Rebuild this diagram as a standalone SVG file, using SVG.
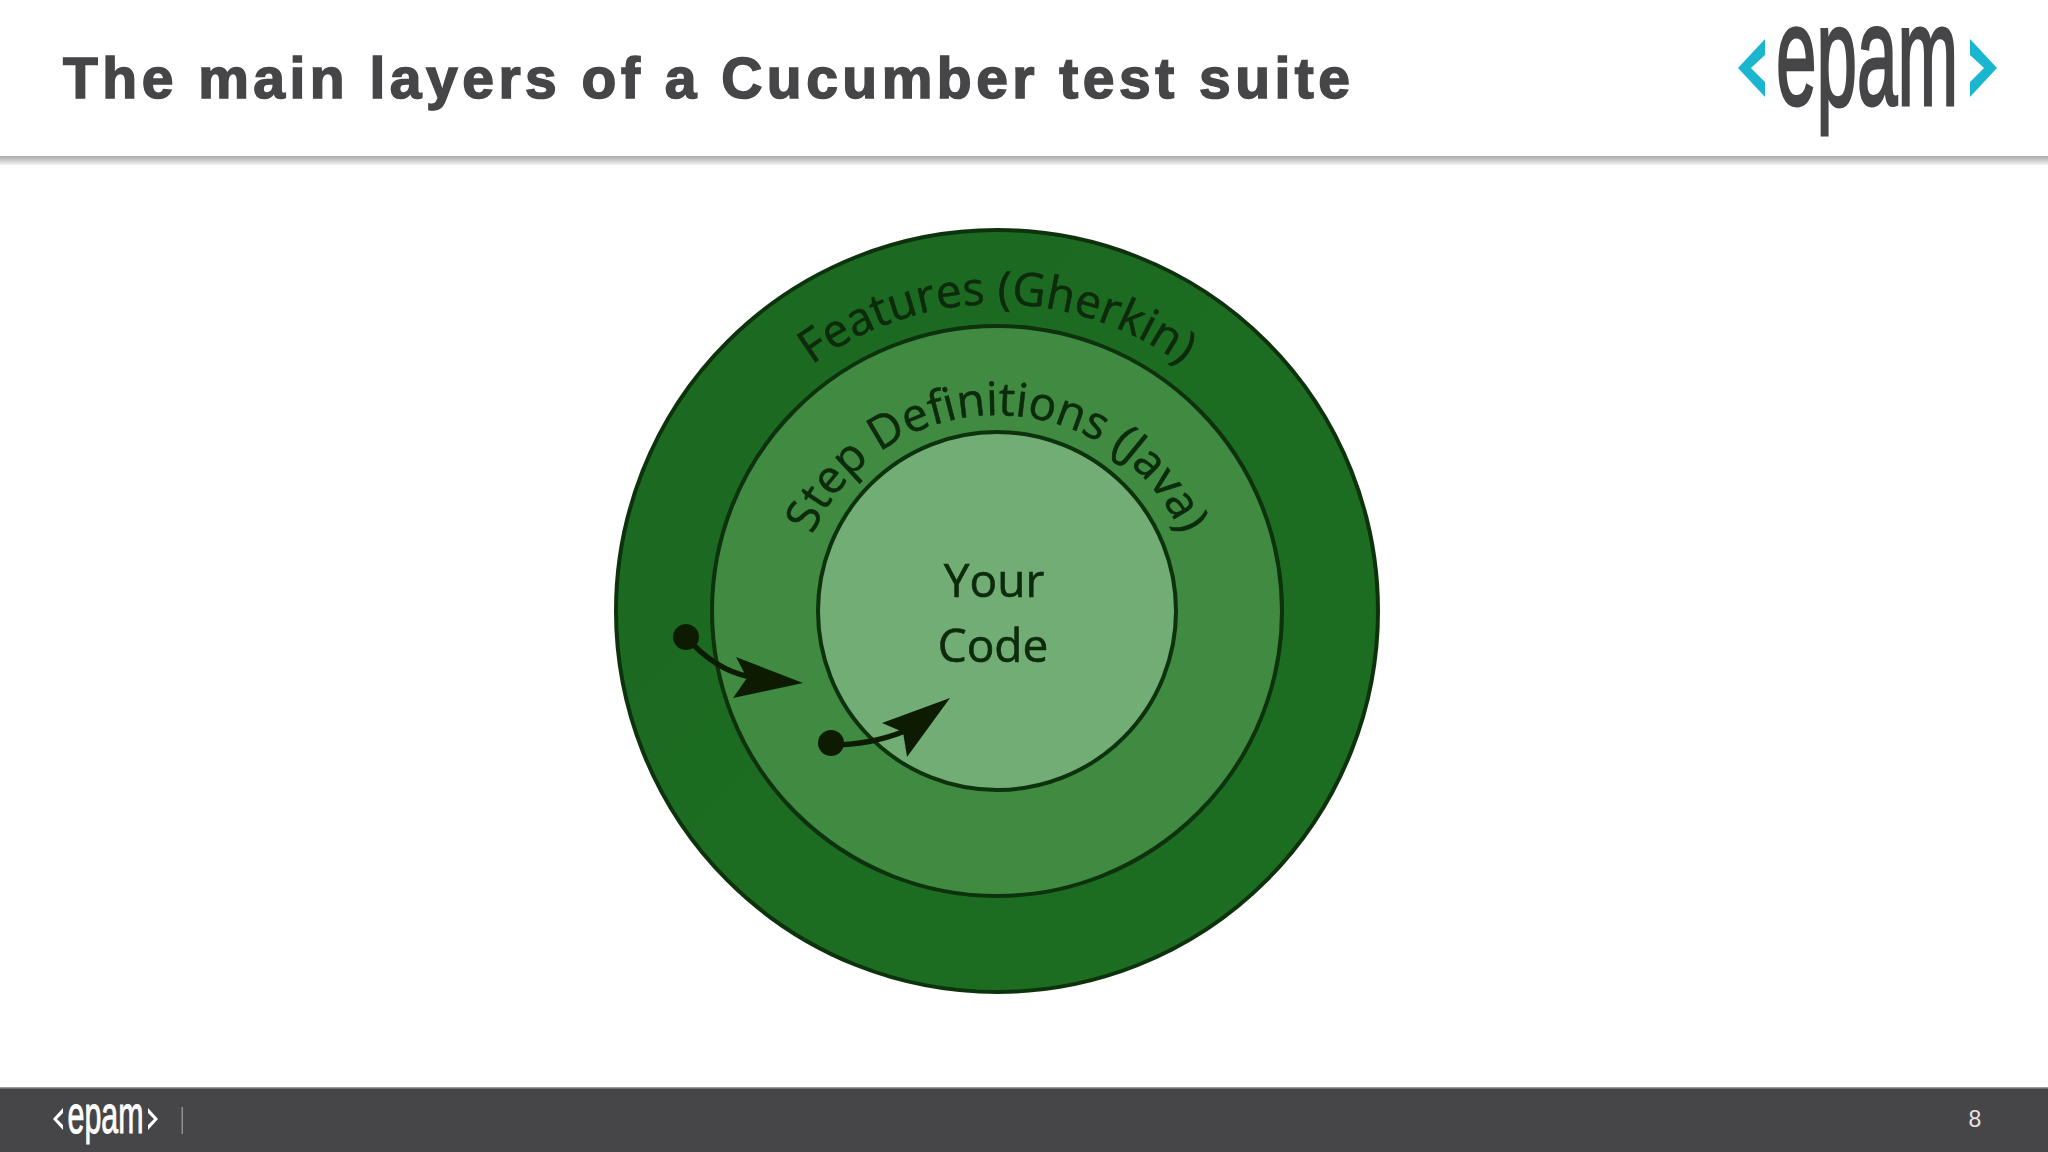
<svg xmlns="http://www.w3.org/2000/svg" width="2048" height="1152" viewBox="0 0 2048 1152">
<style>
.ring{stroke:#0a3309;stroke-width:4}
.lbl{font-family:"Open Sans","Noto Sans","Liberation Sans",sans-serif;fill:#0b2a0a;stroke:#0b2a0a;stroke-width:.6}
.logo{font-family:"Liberation Sans",Arial,sans-serif}
.dot{fill:#0a1f06}
.line{fill:none;stroke:#0a1f06;stroke-width:5.5}
.head{fill:#0a1f06}
</style>
<defs>
<linearGradient id="headShadow" x1="0" y1="0" x2="0" y2="1"><stop offset="0" stop-color="#a9a9a9"/><stop offset="1" stop-color="#f4f4f4"/></linearGradient>
<linearGradient id="g1" x1="0" y1="0" x2="1" y2="1"><stop offset="0" stop-color="#1d6a20"/><stop offset="1" stop-color="#1f6e23"/></linearGradient>
<filter id="soft" x="-5%" y="-5%" width="110%" height="110%"><feGaussianBlur stdDeviation="0.7"/></filter>
<path id="arcF" d="M 762 411 A 312 312 0 0 1 1232 411"/>
<path id="arcS" d="M 797 611 A 200 196 0 0 1 1197 611"/>
</defs>
<rect width="2048" height="1152" fill="#fff"/>
<g id="header">
<rect x="0" y="156" width="2048" height="9" fill="url(#headShadow)"/>
<text x="63" y="98" font-family="Liberation Sans,Arial,sans-serif" font-weight="700" font-size="57" fill="#464547" stroke="#464547" stroke-width="1.6" textLength="1287" lengthAdjust="spacing">The main layers of a Cucumber test suite</text>
</g>
<g id="logo-top">
<path fill="#1ab6d0" d="M1765 39V55L1751 68L1765 82V97L1738 68Z"/>
<path fill="#1ab6d0" d="M1970 39V55L1984 68L1970 82V97L1997 68Z"/>
<text class="logo" x="1776" y="105" font-size="142" fill="#464547" stroke="#464547" stroke-width="3" textLength="182" lengthAdjust="spacingAndGlyphs">epam</text>
</g>
<g filter="url(#soft)">
<g id="node-features">
<circle class="ring" cx="997" cy="611" r="381" fill="url(#g1)"/>
<text class="lbl" font-size="46"><textPath href="#arcF" startOffset="50%" text-anchor="middle">Features (Gherkin)</textPath></text>
</g>
<g id="node-steps">
<circle class="ring" cx="997" cy="611" r="285" fill="#3f8a42"/>
<text class="lbl" font-size="46"><textPath href="#arcS" startOffset="50%" text-anchor="middle">Step Definitions (Java)</textPath></text>
</g>
<g id="node-code">
<circle class="ring" cx="997" cy="611" r="179" fill="#72ad75"/>
<text class="lbl" x="994" y="597" font-size="46" text-anchor="middle">Your</text>
<text class="lbl" x="993" y="662" font-size="46" text-anchor="middle">Code</text>
</g>
<g id="connectors">
<circle class="dot" cx="686" cy="637" r="13"/>
<path class="line" d="M686 637Q715 670 750 677"/>
<path class="head" d="M803 683L736 657L747 678L733 698Z"/>
<circle class="dot" cx="831" cy="743" r="13"/>
<path class="line" d="M831 745Q870 745 905 731"/>
<path class="head" d="M950 698L882 723L903 732L907 757Z"/>
</g>
</g>
<g id="footer">
<rect x="0" y="1087" width="2048" height="65" fill="#464547"/>
<rect x="0" y="1087" width="2048" height="1.5" fill="#9a9a9a"/>
<path fill="#fff" d="M63 1108V1113L57 1119L63 1125V1130L53 1119Z"/>
<path fill="#fff" d="M148 1108V1113L154 1119L148 1125V1130L158 1119Z"/>
<text class="logo" x="67.500" y="1133" font-size="54" fill="#fff" stroke="#fff" stroke-width="1" textLength="76" lengthAdjust="spacingAndGlyphs">epam</text>
<rect x="181.500" y="1107" width="1.500" height="27" fill="#8f8f8f"/>
<text x="1975" y="1127" font-family="Liberation Sans,Arial,sans-serif" font-size="23" fill="#e4e4e4" text-anchor="middle">8</text>
</g>
</svg>
